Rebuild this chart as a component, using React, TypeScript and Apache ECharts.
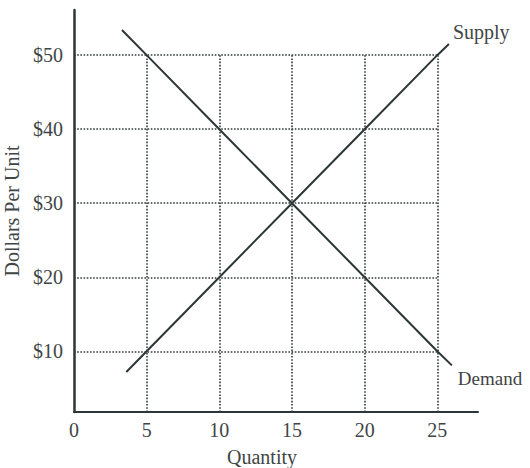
import React, { useEffect, useRef } from "react";
import * as echarts from "echarts";

const quantityTicks = [0, 5, 10, 15, 20, 25];
const priceTicks = [10, 20, 30, 40, 50];
const gridQuantities = [5, 10, 15, 20, 25];
const gridPrices = [10, 20, 30, 40, 50];

const supplyQ = [3.6, 5, 10, 15, 20, 25, 25.8];
const supplyP = [7.2, 10, 20, 30, 40, 50, 51.5];
const demandQ = [3.3, 5, 10, 15, 20, 25, 26.0];
const demandP = [53.4, 50, 40, 30, 20, 10, 8.1];

const Y_MIN = 1.8;
const Y_MAX = 56.1;
const X_MIN = 0;
const X_MAX = 27.8;

const FONT = '"Liberation Serif", "DejaVu Serif", "Times New Roman", serif';
const TEXT = "#404545";
const INK = "#2c3636";

export default function App() {
  const ref = useRef<HTMLDivElement>(null);
  useEffect(() => {
    document.body.style.margin = "0";
    if (!ref.current) return;
    const chart = echarts.init(ref.current, undefined, { renderer: "svg" });
    const gridBox: any[] = [];
    gridPrices.forEach((p) =>
      gridBox.push([{ coord: [0, p] }, { coord: [gridQuantities[gridQuantities.length - 1], p] }])
    );
    gridQuantities.forEach((q) =>
      gridBox.push([{ coord: [q, Y_MIN] }, { coord: [q, gridPrices[gridPrices.length - 1]] }])
    );
    chart.setOption({
      animation: false,
      backgroundColor: "#ffffff",
      textStyle: { fontFamily: FONT },
      grid: { left: 74, right: 52, top: 10, bottom: 56, containLabel: false, outerBoundsMode: "none" },
      xAxis: {
        type: "value",
        min: X_MIN,
        max: X_MAX,
        name: "Quantity",
        nameLocation: "middle",
        nameGap: 35,
        nameTextStyle: { fontFamily: FONT, fontSize: 20, color: TEXT, padding: [0, 28, 0, 0] },
        axisLine: { show: true, onZero: false, lineStyle: { color: INK, width: 2 } },
        axisTick: { show: false },
        splitLine: { show: false },
        axisLabel: {
          customValues: quantityTicks,
          fontFamily: FONT,
          fontSize: 20,
          color: TEXT,
          margin: 8,
          formatter: (v: number) => String(v),
        },
      },
      yAxis: {
        type: "value",
        min: Y_MIN,
        max: Y_MAX,
        name: "Dollars Per Unit",
        nameLocation: "middle",
        nameGap: 46,
        nameRotate: 90,
        nameTextStyle: { fontFamily: FONT, fontSize: 20, color: TEXT },
        axisLine: { show: true, onZero: false, lineStyle: { color: INK, width: 2.5 } },
        axisTick: { show: false },
        splitLine: { show: false },
        axisLabel: {
          customValues: priceTicks,
          fontFamily: FONT,
          fontSize: 20,
          color: TEXT,
          margin: 11,
          formatter: (v: number) => "$" + v,
        },
      },
      series: [
        {
          type: "line",
          name: "grid",
          data: [],
          silent: true,
          markLine: {
            silent: true,
            symbol: "none",
            label: { show: false },
            lineStyle: { type: "dotted", color: "#333a3a", width: 1.6 },
            data: gridBox,
          },
        },
        {
          type: "line",
          name: "Supply",
          data: supplyQ.map((q, i) => [q, supplyP[i]]),
          showSymbol: false,
          lineStyle: { color: INK, width: 2 },
          endLabel: {
            show: true,
            formatter: "Supply",
            fontFamily: FONT,
            fontSize: 20,
            color: TEXT,
            offset: [0, -12],
            distance: 4,
          },
        },
        {
          type: "line",
          name: "Demand",
          data: demandQ.map((q, i) => [q, demandP[i]]),
          showSymbol: false,
          lineStyle: { color: INK, width: 2 },
          endLabel: {
            show: true,
            formatter: "Demand",
            fontFamily: FONT,
            fontSize: 19,
            color: TEXT,
            offset: [2, 13],
            distance: 4,
          },
        },
      ],
    });
    return () => chart.dispose();
  }, []);
  return <div ref={ref} style={{ width: 530, height: 468 }} />;
}
